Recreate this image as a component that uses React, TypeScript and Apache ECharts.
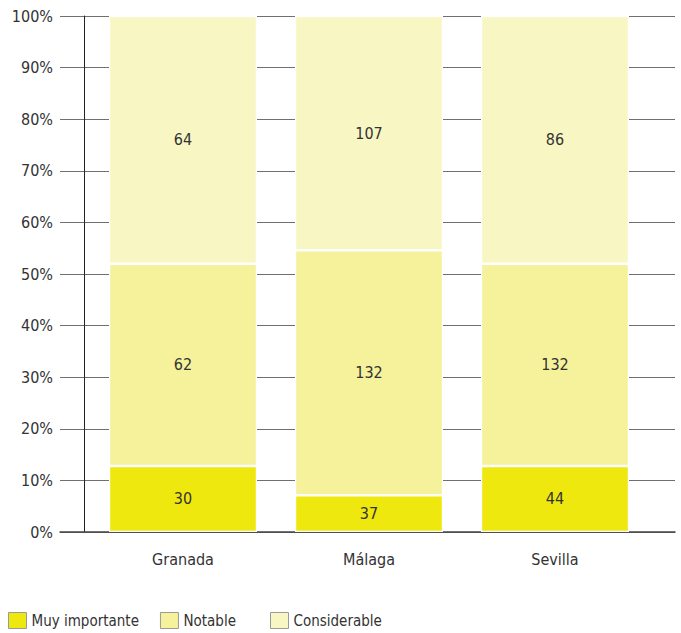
import React, { useEffect, useRef } from "react";
import * as echarts from "echarts";

const categories = ["Granada", "Málaga", "Sevilla"];
const seriesNames = ["Muy importante", "Notable", "Considerable"];
// bar heights (share of each bar, %)
const muyImportantePct = [12.8, 7.1, 12.8];
const notablePct = [39.2, 47.5, 39.2];
const considerablePct = [48.0, 45.4, 48.0];
// counts printed inside the segments
const muyImportanteCount = [30, 37, 44];
const notableCount = [62, 132, 132];
const considerableCount = [64, 107, 86];
const yTicks = [0, 10, 20, 30, 40, 50, 60, 70, 80, 90, 100];

const colors = ["#efe80f", "#f5f29b", "#f8f7c4"];
const FONT = "'Liberation Sans Narrow', 'DejaVu Sans Condensed', 'Roboto', sans-serif";

export default function App() {
  const ref = useRef<HTMLDivElement>(null);
  useEffect(() => {
    if (!ref.current) return;
    const chart = echarts.init(ref.current, null, { renderer: "svg" });
    const pcts = [muyImportantePct, notablePct, considerablePct];
    const counts = [muyImportanteCount, notableCount, considerableCount];
    const legendBase = {
      top: 612,
      padding: 0,
      itemWidth: 18,
      itemHeight: 16,
      itemGap: 21,
      icon: "rect",
      itemStyle: { borderColor: "#9a9a9a", borderWidth: 1 },
      textStyle: { fontFamily: FONT, fontSize: 15, color: "#333" },
    };
    chart.setOption({
      animation: false,
      backgroundColor: "#ffffff",
      textStyle: { fontFamily: FONT },
      grid: [
        { left: 60, right: 6, top: 16, bottom: 101 },
        { left: 90, right: 33, top: 16, bottom: 101 },
      ],
      legend: [
        { ...legendBase, left: 8, data: seriesNames.slice(0, 2) },
        { ...legendBase, left: 270, data: seriesNames.slice(2) },
      ],
      xAxis: [
        {
          type: "category",
          gridIndex: 0,
          data: [""],
          axisLine: { show: true, lineStyle: { color: "#444", width: 1.5 } },
          axisTick: { show: false },
          axisLabel: { show: false },
          splitLine: { show: false },
        },
        {
          type: "category",
          gridIndex: 1,
          data: categories,
          axisLine: { show: false },
          axisTick: { show: false },
          axisLabel: { margin: 19, fontSize: 16, color: "#333", fontFamily: FONT },
        },
      ],
      yAxis: [
        {
          type: "value",
          gridIndex: 0,
          min: 0,
          max: 100,
          interval: 10,
          axisLine: { show: false },
          axisTick: { show: false },
          axisLabel: {
            margin: 7,
            fontSize: 16,
            color: "#333",
            fontFamily: FONT,
            formatter: (v: number) => (yTicks.includes(v) ? v + "%" : ""),
          },
          splitLine: { show: true, lineStyle: { color: "#707070", width: 1 } },
        },
        {
          type: "value",
          gridIndex: 1,
          min: 0,
          max: 100,
          interval: 10,
          offset: 6,
          axisLine: { show: true, lineStyle: { color: "#222", width: 1 } },
          axisTick: { show: false },
          axisLabel: { show: false },
          splitLine: { show: false },
        },
      ],
      series: seriesNames.map((name, i) => ({
        name,
        type: "bar",
        stack: "total",
        xAxisIndex: 1,
        yAxisIndex: 1,
        barWidth: 148,
        itemStyle: { color: colors[i], borderColor: "#ffffff", borderWidth: 1.2 },
        label: {
          show: true,
          position: "inside",
          fontSize: 16,
          color: "#333",
          fontFamily: FONT,
          formatter: (p: any) => String(counts[i][p.dataIndex]),
        },
        data: pcts[i],
      })),
    });
    return () => chart.dispose();
  }, []);
  return (
    <div
      ref={ref}
      style={{ position: "absolute", left: 0, top: 0, width: 681, height: 633 }}
    />
  );
}
